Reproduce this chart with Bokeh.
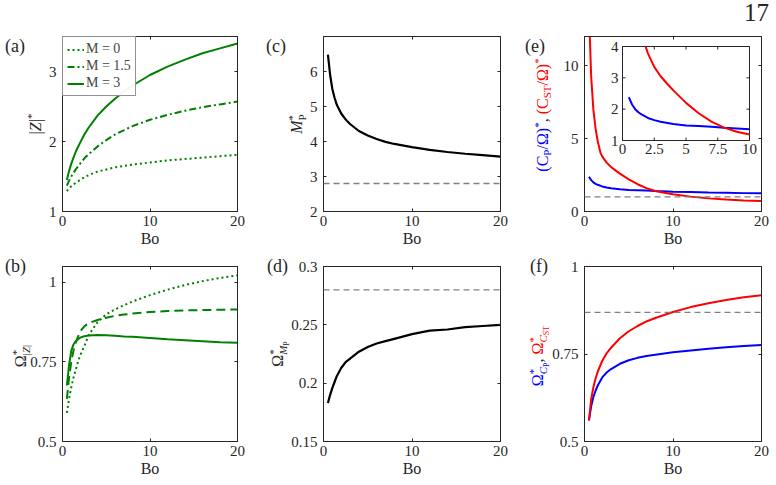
from bokeh.core.properties import value
from bokeh.embed import file_html
from bokeh.layouts import column, row
from bokeh.models import Div, FixedTicker, LinearAxis, Range1d, Span
from bokeh.plotting import figure
from bokeh.resources import INLINE

FONT = "Liberation Serif"
INK = "#262626"
GREEN = "#008000"
BLUE = "#0000ff"
RED = "#ff0000"
GREY = "#808080"

# ---------------------------------------------------------------- data
# Bond numbers shared by most curves
bo = [0.5, 0.75, 1, 1.25, 1.5, 2, 2.5, 3, 4, 5, 6, 7, 8, 10, 12, 14, 16, 18, 20]

# (a) |Z|* for M = 0, 1.5, 3
z_m0 = [1.29, 1.33, 1.36, 1.385, 1.41, 1.45, 1.49, 1.52, 1.57, 1.60, 1.63, 1.65, 1.67, 1.70, 1.73, 1.75, 1.77, 1.79, 1.81]
z_m15 = [1.37, 1.44, 1.50, 1.55, 1.60, 1.68, 1.76, 1.82, 1.93, 2.02, 2.10, 2.16, 2.22, 2.31, 2.38, 2.44, 2.49, 2.53, 2.57]
z_m3 = [1.45, 1.58, 1.68, 1.77, 1.85, 1.98, 2.10, 2.20, 2.37, 2.50, 2.61, 2.71, 2.80, 2.95, 3.07, 3.17, 3.26, 3.33, 3.40]

# (b) frequency of the |Z| peak
om_m0 = [0.59, 0.635, 0.67, 0.70, 0.725, 0.77, 0.80, 0.835, 0.875, 0.90, 0.915, 0.928, 0.94, 0.96, 0.977, 0.992, 1.004, 1.014, 1.022]
om_m15 = [0.634, 0.70, 0.75, 0.785, 0.81, 0.845, 0.862, 0.872, 0.882, 0.889, 0.895, 0.899, 0.902, 0.907, 0.91, 0.912, 0.913, 0.914, 0.915]
om_m3 = [0.676, 0.74, 0.785, 0.805, 0.815, 0.826, 0.831, 0.833, 0.835, 0.834, 0.832, 0.83, 0.829, 0.825, 0.821, 0.818, 0.815, 0.812, 0.81]

# (c) M_P* and (d) its frequency
mp = [6.48, 5.9, 5.5, 5.25, 5.05, 4.8, 4.63, 4.5, 4.3, 4.17, 4.07, 3.99, 3.93, 3.84, 3.76, 3.70, 3.65, 3.61, 3.57]
om_mp = [0.183, 0.19, 0.196, 0.201, 0.206, 0.213, 0.218, 0.221, 0.227, 0.231, 0.234, 0.236, 0.238, 0.242, 0.245, 0.246, 0.248, 0.249, 0.25]
mp_ref = 2.8
om_mp_ref = 0.28

# (e) capacities and (f) their frequencies
cp = [2.38, 2.15, 2.0, 1.9, 1.83, 1.72, 1.65, 1.60, 1.53, 1.48, 1.46, 1.44, 1.41, 1.36, 1.33, 1.30, 1.28, 1.26, 1.25]
bo_st = [0.5, 0.6, 0.75, 1, 1.25, 1.5, 1.82, 2, 2.5, 3, 3.5, 4, 5, 6, 7, 8, 9, 10, 12, 14, 16, 18, 20]
cst = [15.0, 12.0, 9.3, 7.0, 5.7, 4.8, 4.0, 3.78, 3.35, 3.05, 2.82, 2.6, 2.2, 1.87, 1.6, 1.41, 1.28, 1.19, 1.02, 0.9, 0.82, 0.76, 0.72]
c_ref = 1.0
om_cp = [0.56, 0.6, 0.627, 0.645, 0.66, 0.683, 0.697, 0.707, 0.722, 0.732, 0.739, 0.744, 0.748, 0.755, 0.76, 0.765, 0.769, 0.773, 0.776]
om_cst = [0.56, 0.62, 0.655, 0.68, 0.70, 0.73, 0.752, 0.768, 0.795, 0.815, 0.83, 0.843, 0.853, 0.87, 0.884, 0.895, 0.904, 0.912, 0.918]
om_c_ref = 0.869

# ticks
bo_ticks = [0, 10, 20]
bo_tick_labels = ["0", "10", "20"]
a_ticks, a_labels = [1, 2, 3], ["1", "2", "3"]
b_ticks, b_labels = [0.5, 0.75, 1], ["0.5", "0.75", "1"]
c_ticks, c_labels = [2, 3, 4, 5, 6], ["2", "3", "4", "5", "6"]
d_ticks, d_labels = [0.15, 0.2, 0.25, 0.3], ["0.15", "0.2", "0.25", "0.3"]
e_ticks, e_labels = [0, 5, 10], ["0", "5", "10"]
f_ticks, f_labels = [0.5, 0.75, 1], ["0.5", "0.75", "1"]
inset_x_ticks, inset_x_labels = [0, 2.5, 5, 7.5, 10], ["0", "2.5", "5", "7.5", "10"]
inset_y_ticks, inset_y_labels = [1, 2, 3, 4], ["1", "2", "3", "4"]
INSET_XLIM = (0, 10)
INSET_YLIM = (1, 4)

# ---------------------------------------------------------------- layout
PAGE_W, PAGE_H = 776, 485
FRAME_H = 175
COLS = [(62, 175, 10), (76, 177, 10), (74, 177, 15)]   # left border, frame width, right border
ROWS = [(36, 42), (13, 44)]                           # top border, bottom border


def style_axis(ax, ticks, labels, show, standoff=6):
    ax.ticker = FixedTicker(ticks=ticks)
    ax.major_tick_in = 3
    ax.major_tick_out = 0
    ax.minor_tick_line_color = None
    ax.axis_line_color = INK
    ax.major_tick_line_color = INK
    ax.major_label_text_font = FONT
    ax.major_label_text_color = INK
    if show:
        ax.major_label_overrides = {t: l for t, l in zip(ticks, labels)}
        ax.major_label_text_font_size = "15px"
        ax.major_label_standoff = standoff
    else:
        ax.major_label_overrides = {t: "" for t in ticks}
        ax.major_label_text_font_size = "0px"
        ax.major_label_standoff = 0


def make_panel(col, rw, y_range, y_ticks, y_labels):
    left, fw, right = COLS[col]
    top, bottom = ROWS[rw]
    p = figure(frame_width=fw, frame_height=FRAME_H,
               x_range=Range1d(0, 20), y_range=Range1d(*y_range),
               min_border_left=left, min_border_right=right,
               min_border_top=top, min_border_bottom=bottom,
               toolbar_location=None, output_backend="svg", title=None,
               background_fill_color="white", border_fill_color="white",
               outline_line_color=INK)
    p.grid.visible = False
    p.add_layout(LinearAxis(), "above")
    p.add_layout(LinearAxis(), "right")
    style_axis(p.below[0], bo_ticks, bo_tick_labels, True, standoff=4)
    style_axis(p.left[0], y_ticks, y_labels, True, standoff=6)
    style_axis(p.above[0], bo_ticks, bo_tick_labels, False)
    style_axis(p.right[0], y_ticks, y_labels, False)
    xb = p.below[0]
    xb.axis_label = "Bo"
    xb.axis_label_text_font = FONT
    xb.axis_label_text_font_size = "16px"
    xb.axis_label_text_font_style = "normal"
    xb.axis_label_text_color = INK
    xb.axis_label_standoff = 1
    return p


def ref_line(p, level):
    p.add_layout(Span(location=level, dimension="width", line_color=GREY,
                      line_dash="6 4", line_width=1.3))


# ---------------------------------------------------------------- (a)
pa = make_panel(0, 0, (1, 3.5), a_ticks, a_labels)
pa.line(bo, z_m0, color=GREEN, line_width=2, line_dash="2 3", legend_label="M = 0")
pa.line(bo, z_m15, color=GREEN, line_width=2, line_dash="7 3 2 3", legend_label="M = 1.5")
pa.line(bo, z_m3, color=GREEN, line_width=2, legend_label="M = 3")
leg = pa.legend[0]
leg.location = "top_left"
leg.margin = 0
leg.padding = 4
leg.spacing = 1
leg.label_text_font = FONT
leg.label_text_font_size = "14px"
leg.label_height = 15
leg.glyph_height = 15
leg.glyph_width = 17
leg.label_standoff = 2
leg.border_line_color = INK

# ---------------------------------------------------------------- (b)
pb = make_panel(0, 1, (0.5, 1.05), b_ticks, b_labels)
pb.line(bo, om_m0, color=GREEN, line_width=2, line_dash="2 3")
pb.line(bo, om_m15, color=GREEN, line_width=2, line_dash="9 5")
pb.line(bo, om_m3, color=GREEN, line_width=2)

# ---------------------------------------------------------------- (c)
pc = make_panel(1, 0, (2, 7), c_ticks, c_labels)
pc.line(bo, mp, color="black", line_width=2.2)
ref_line(pc, mp_ref)

# ---------------------------------------------------------------- (d)
pd = make_panel(1, 1, (0.15, 0.3), d_ticks, d_labels)
pd.line(bo, om_mp, color="black", line_width=2.2)
ref_line(pd, om_mp_ref)

# ---------------------------------------------------------------- (e)
pe = make_panel(2, 0, (0, 12), e_ticks, e_labels)
pe.line(bo, cp, color=BLUE, line_width=2)
pe.line(bo_st, cst, color=RED, line_width=2)
ref_line(pe, c_ref)

# inset: first half of the Bo axis, mapped through extra ranges
fl, fw, fr = COLS[2]
IN_LEFT, IN_RIGHT, IN_TOP, IN_BOTTOM = 38, 12, 10, 71   # inset box offsets inside the frame (px)
kx = (INSET_XLIM[1] - INSET_XLIM[0]) / (fw - IN_LEFT - IN_RIGHT)
ky = (INSET_YLIM[1] - INSET_YLIM[0]) / (FRAME_H - IN_TOP - IN_BOTTOM)
pe.extra_x_ranges = {"ix": Range1d(INSET_XLIM[0] - IN_LEFT * kx, INSET_XLIM[1] + IN_RIGHT * kx)}
pe.extra_y_ranges = {"iy": Range1d(INSET_YLIM[0] - IN_BOTTOM * ky, INSET_YLIM[1] + IN_TOP * ky)}
inset = dict(x_range_name="ix", y_range_name="iy")
pe.quad(left=[INSET_XLIM[0]], right=[INSET_XLIM[1]], bottom=[INSET_YLIM[0]], top=[INSET_YLIM[1]],
        fill_color="white", line_color=INK, line_width=1, **inset)
in_cp = [(x, y) for x, y in zip(bo, cp) if x <= INSET_XLIM[1]]
in_cst = [(x, y) for x, y in zip(bo_st, cst) if x <= INSET_XLIM[1] and y <= INSET_YLIM[1]]
pe.line([x for x, _ in in_cp], [y for _, y in in_cp], color=BLUE, line_width=2, **inset)
pe.line([x for x, _ in in_cst], [y for _, y in in_cst], color=RED, line_width=2, **inset)
tick_x, tick_y = 3 * kx, 3 * ky
n = len(inset_x_ticks)
pe.segment(x0=inset_x_ticks, x1=inset_x_ticks, y0=[INSET_YLIM[0]] * n, y1=[INSET_YLIM[0] + tick_y] * n,
           line_color=INK, **inset)
pe.segment(x0=inset_x_ticks, x1=inset_x_ticks, y0=[INSET_YLIM[1]] * n, y1=[INSET_YLIM[1] - tick_y] * n,
           line_color=INK, **inset)
m = len(inset_y_ticks)
pe.segment(x0=[INSET_XLIM[0]] * m, x1=[INSET_XLIM[0] + tick_x] * m, y0=inset_y_ticks, y1=inset_y_ticks,
           line_color=INK, **inset)
pe.segment(x0=[INSET_XLIM[1]] * m, x1=[INSET_XLIM[1] - tick_x] * m, y0=inset_y_ticks, y1=inset_y_ticks,
           line_color=INK, **inset)
pe.text(x=inset_x_ticks, y=[INSET_YLIM[0]] * n, text=inset_x_labels, y_offset=3,
        text_align="center", text_baseline="top", text_font=value(FONT), text_font_size="15px",
        text_color=INK, **inset)
pe.text(x=[INSET_XLIM[0]] * m, y=inset_y_ticks, text=inset_y_labels, x_offset=-4,
        text_align="right", text_baseline="middle", text_font=value(FONT), text_font_size="15px",
        text_color=INK, **inset)

# ---------------------------------------------------------------- (f)
pf = make_panel(2, 1, (0.5, 1), f_ticks, f_labels)
pf.line(bo, om_cp, color=BLUE, line_width=2)
pf.line(bo, om_cst, color=RED, line_width=2)
ref_line(pf, om_c_ref)


# ---------------------------------------------------------------- axis titles and panel tags
def sup(t, size=11, rise=6):
    return f'<span style="font-size:{size}px;vertical-align:{rise}px;line-height:0">{t}</span>'


def sub(t, size=11, drop=3):
    return f'<span style="font-size:{size}px;vertical-align:-{drop}px;line-height:0">{t}</span>'


def stack(top, bottom, size=11):
    return (f'<span style="display:inline-block;font-size:{size}px;line-height:10px;'
            f'vertical-align:-4px;text-align:left">'
            f'<span style="display:block">{top}</span><span style="display:block">{bottom}</span></span>')


def colour(t, c):
    return f'<span style="color:{c}">{t}</span>'


OM = "\u03a9"
y_titles = [
    (36, 123.5, f'|<i>Z</i>|{sup("*")}'),
    (21, 356, f'{OM}{stack("*", "|<i>Z</i>|")}'),
    (297, 123.5, f'<i>M</i>{stack("*", "P")}'),
    (278, 353.5, f'{OM}{stack("*", "<i>M</i>" + sub("P", 8, 2))}'),
    (543, 115, colour(f'(C{sub("P")}/{OM}){sup("*")}', BLUE) + ", "
     + colour(f'(C{sub("ST")}/{OM}){sup("*")}', RED)),
    (538, 356, colour(f'{OM}{stack("*", "<i>C</i>" + sub("P", 8, 2))}', BLUE) + ", "
     + colour(f'{OM}{stack("*", "<i>C</i>" + sub("ST", 8, 2))}', RED)),
]
tags = [(5, 46, "(a)"), (266, 46, "(c)"), (525, 46, "(e)"),
        (5, 266, "(b)"), (267, 266, "(d)"), (530, 266, "(f)")]

parts = []
for cx, cy, html in y_titles:
    parts.append(f'<div style="position:absolute;left:{cx}px;top:{cy}px;white-space:nowrap;'
                 f'transform:translate(-50%,-50%) rotate(-90deg);font-size:16px;line-height:16px">'
                 f'{html}</div>')
for x, cy, t in tags:
    parts.append(f'<div style="position:absolute;left:{x}px;top:{cy - 10}px;font-size:18px;'
                 f'line-height:20px">{t}</div>')
parts.append('<div style="position:absolute;right:7px;top:0px;font-size:25px;line-height:25px">17</div>')

overlay = Div(text=(f'<div style="position:relative;width:{PAGE_W}px;height:{PAGE_H}px;'
                    f"font-family:'{FONT}';color:{INK}\">" + "".join(parts) + "</div>"),
              width=PAGE_W, height=PAGE_H, margin=0,
              styles={"position": "absolute", "left": "0px", "top": "0px",
                      "z-index": "10", "pointer-events": "none"})

layout = column(row(pa, pc, pe), row(pb, pd, pf), overlay)
open("out.html", "w").write(file_html(layout, INLINE))
